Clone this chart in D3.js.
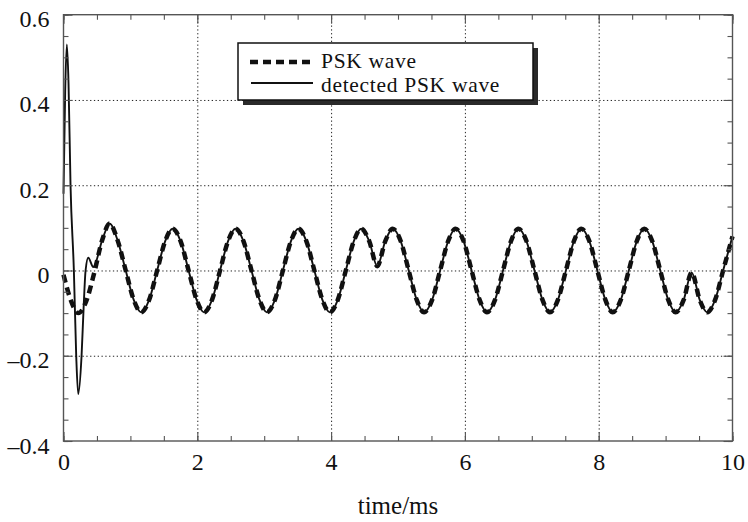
<!DOCTYPE html>
<html><head><meta charset="utf-8">
<script src="https://cdn.jsdelivr.net/npm/d3@7"></script>
<style>body{margin:0;background:#fff}svg text{font-family:"Liberation Serif","Times New Roman",serif;fill:#111}</style>
</head><body><svg id="c" width="748" height="522"></svg>
<script>
// ---- data ----
const xTicks = [0, 2, 4, 6, 8, 10];
const xMinorTicks = [0,0.5,1,1.5,2,2.5,3,3.5,4,4.5,5,5.5,6,6.5,7,7.5,8,8.5,9,9.5,10];
const yTicks = [-0.4, -0.2, 0, 0.2, 0.4, 0.6];
const yTickLabels = ["\u20130.4", "\u20130.2", "0", "0.2", "0.4", "0.6"];
const yMinorTicks = [-0.4,-0.35,-0.3,-0.25,-0.2,-0.15,-0.1,-0.05,0,0.05,0.1,0.15,0.2,0.25,0.3,0.35,0.4,0.45,0.5,0.55,0.6];
const seriesNames = ["PSK wave", "detected PSK wave"];
const xTitle = "time/ms";

// PSK wave (dashed), time in ms
const pskTime = [0.00,0.11,0.22,0.34,0.46,0.58,0.69,0.81,0.93,1.05,1.16,1.28,1.40,1.52,1.63,1.75,1.87,1.99,2.10,2.22,2.34,2.46,2.57,2.69,2.81,2.93,3.04,3.16,3.28,3.40,3.51,3.63,3.75,3.87,3.98,4.10,4.22,4.34,4.45,4.57,4.69,
  4.81,4.92,5.04,5.16,5.28,5.39,5.51,5.63,5.75,5.86,5.98,6.10,6.22,6.33,6.45,6.57,6.69,6.80,6.92,7.04,7.16,7.27,7.39,7.51,7.63,7.74,7.86,7.98,8.10,8.21,8.33,8.45,8.57,8.68,8.80,8.92,9.04,9.15,9.27,9.39,9.51,9.62,9.74,9.86,10.00];
const pskValue = [-0.01,-0.07,-0.10,-0.072,-0.005,0.072,0.11,0.07,0.0,-0.069,-0.098,-0.069,0.0,0.069,0.098,0.069,0.0,-0.069,-0.098,-0.069,0.0,0.069,0.098,0.069,0.0,-0.069,-0.098,-0.069,0.0,0.069,0.098,0.069,0.0,-0.069,-0.098,-0.069,0.0,0.069,0.098,0.069,0.01,
  0.069,0.098,0.069,0.0,-0.069,-0.098,-0.069,0.0,0.069,0.098,0.069,0.0,-0.069,-0.098,-0.069,0.0,0.069,0.098,0.069,0.0,-0.069,-0.098,-0.069,0.0,0.069,0.098,0.069,0.0,-0.069,-0.098,-0.069,0.0,0.069,0.098,0.069,0.0,-0.069,-0.098,-0.069,-0.005,-0.069,-0.098,-0.069,0.0,0.08];

// detected PSK wave: start-up transient, afterwards it follows the PSK wave
const detTransientTime  = [0.00,0.025,0.05,0.075,0.105,0.155,0.19,0.22,0.27,0.30,0.33,0.37,0.445];
const detTransientValue = [0.18,0.42,0.53,0.44,0.20,0.00,-0.20,-0.29,-0.20,-0.09,0.00,0.03,0.008];
const detJoinTime = 0.58;

// ---- chart ----
const svg = d3.select("#c");
const L = 63.5, R = 732.5, T = 14.7, B = 441;
const x = d3.scaleLinear().domain([0, 10]).range([L, R]);
const y = d3.scaleLinear().domain([-0.4, 0.6]).range([B, T]);

const psk = pskTime.map((t, i) => ({t, v: pskValue[i]}));
const det = detTransientTime.map((t, i) => ({t, v: detTransientValue[i]}))
  .concat(psk.filter(d => d.t >= detJoinTime));

// grid
const gridX = svg.append("g").attr("transform", `translate(0,${B})`)
  .call(d3.axisBottom(x).tickValues(xTicks.filter(d => d > 0 && d < 10)).tickSize(-(B - T)).tickFormat(""));
const gridY = svg.append("g").attr("transform", `translate(${L},0)`)
  .call(d3.axisLeft(y).tickValues(yTicks.filter(d => d > -0.4 && d < 0.6)).tickSize(-(R - L)).tickFormat(""));
[gridX, gridY].forEach(g => {
  g.select(".domain").remove();
  g.selectAll("line").attr("stroke", "#222").attr("stroke-width", 1).attr("stroke-dasharray", "1.3,2.5");
});

// lines
const line = d3.line().x(d => x(d.t)).y(d => y(d.v)).curve(d3.curveMonotoneX);
svg.append("path").datum(psk).attr("d", line).attr("fill", "none")
  .attr("stroke", "#111").attr("stroke-width", 4.5).attr("stroke-dasharray", "8,5");
svg.append("path").datum(det).attr("d", line).attr("fill", "none")
  .attr("stroke", "#111").attr("stroke-width", 1.9);

// frame
svg.append("rect").attr("x", L).attr("y", T).attr("width", R - L).attr("height", B - T)
  .attr("fill", "none").attr("stroke", "#555").attr("stroke-width", 1.4);

function styleAxis(g) { g.select(".domain").remove(); g.selectAll("line").attr("stroke", "#555").attr("stroke-width", 1.1); }

// minor ticks all sides
svg.append("g").attr("transform", `translate(0,${B})`).call(d3.axisBottom(x).tickValues(xMinorTicks).tickSize(-5).tickFormat("")).call(styleAxis);
svg.append("g").attr("transform", `translate(0,${T})`).call(d3.axisTop(x).tickValues(xMinorTicks).tickSize(-5).tickFormat("")).call(styleAxis);
svg.append("g").attr("transform", `translate(${L},0)`).call(d3.axisLeft(y).tickValues(yMinorTicks).tickSize(-5).tickFormat("")).call(styleAxis);
svg.append("g").attr("transform", `translate(${R},0)`).call(d3.axisRight(y).tickValues(yMinorTicks).tickSize(-5).tickFormat("")).call(styleAxis);

// major ticks + labels
const xAx = svg.append("g").attr("transform", `translate(0,${B})`)
  .call(d3.axisBottom(x).tickValues(xTicks).tickSize(-9).tickPadding(12).tickFormat(d3.format("d")))
  .call(styleAxis);
xAx.selectAll("text").attr("font-size", 24).attr("font-family", "Liberation Serif").attr("fill", "#111");
svg.append("g").attr("transform", `translate(0,${T})`).call(d3.axisTop(x).tickValues(xTicks).tickSize(-9).tickFormat("")).call(styleAxis);
const yAx = svg.append("g").attr("transform", `translate(${L},0)`)
  .call(d3.axisLeft(y).tickValues(yTicks).tickSize(-9).tickPadding(14).tickFormat((d, i) => yTickLabels[i]))
  .call(styleAxis);
yAx.selectAll("text").attr("font-size", 24).attr("font-family", "Liberation Serif").attr("fill", "#111").attr("dy", "0.5em");
svg.append("g").attr("transform", `translate(${R},0)`).call(d3.axisRight(y).tickValues(yTicks).tickSize(-9).tickFormat("")).call(styleAxis);

// axis title
svg.append("text").attr("x", (L + R) / 2).attr("y", 514).attr("text-anchor", "middle")
  .attr("font-size", 25).text(xTitle);

// legend
const lg = svg.append("g");
lg.append("rect").attr("x", 243).attr("y", 48).attr("width", 295).attr("height", 57).attr("fill", "#2a2a2a");
lg.append("rect").attr("x", 238).attr("y", 43).attr("width", 295).attr("height", 57)
  .attr("fill", "#fff").attr("stroke", "#111").attr("stroke-width", 1.5);
lg.append("line").attr("x1", 250).attr("x2", 313).attr("y1", 62).attr("y2", 62)
  .attr("stroke", "#111").attr("stroke-width", 4.5).attr("stroke-dasharray", "8,5");
lg.append("line").attr("x1", 251).attr("x2", 313).attr("y1", 83).attr("y2", 83)
  .attr("stroke", "#111").attr("stroke-width", 1.8);
lg.append("text").attr("x", 321).attr("y", 67.5).attr("font-size", 21.5).attr("letter-spacing", 0.7).text(seriesNames[0]);
lg.append("text").attr("x", 321).attr("y", 91.5).attr("font-size", 21.5).attr("letter-spacing", 0.7).text(seriesNames[1]);
</script></body></html>
